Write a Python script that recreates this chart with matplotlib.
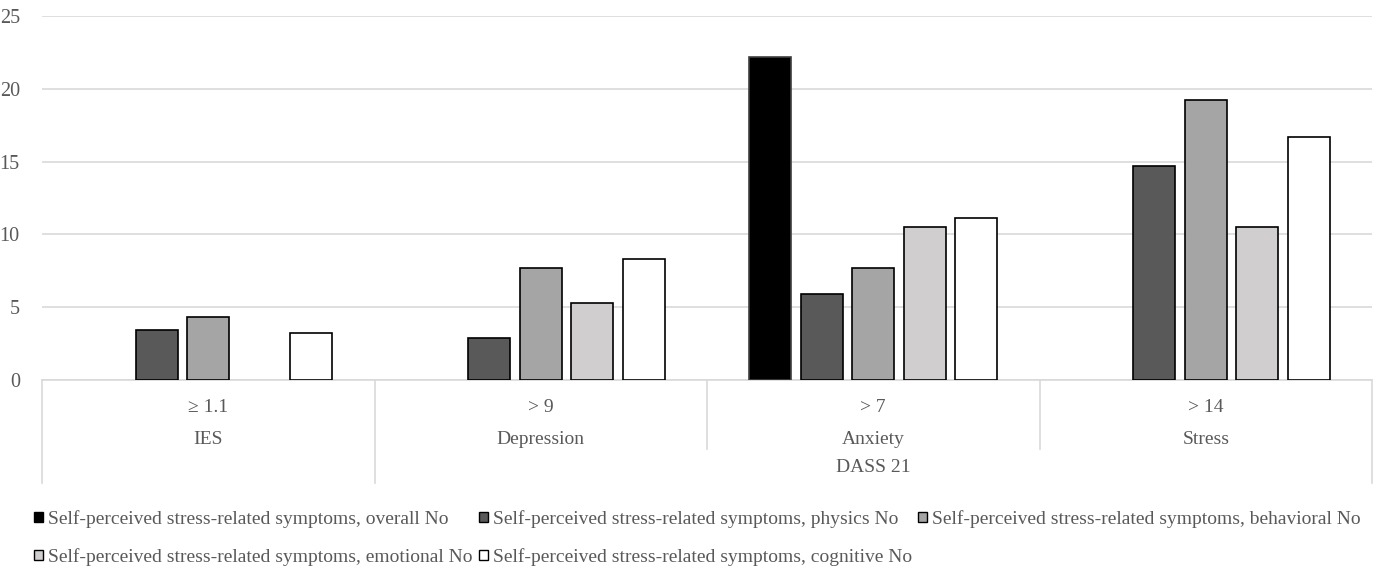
import numpy as np
import matplotlib
matplotlib.use("Agg")
import matplotlib.pyplot as plt
from matplotlib.patches import Patch

plt.rcParams['font.family'] = ['Liberation Serif', 'DejaVu Serif']

# data
thresholds = ['\u2265 1.1', '> 9', '> 7', '> 14']
scales = ['IES', 'Depression', 'Anxiety', 'Stress']
series = ['overall', 'physics', 'behavioral', 'emotional', 'cognitive']
overall = [0, 0, 22.2, 0]
physics = [3.4, 2.9, 5.9, 14.7]
behavioral = [4.3, 7.7, 7.7, 19.2]
emotional = [0, 5.3, 10.5, 10.5]
cognitive = [3.2, 8.3, 11.1, 16.7]
values = [overall, physics, behavioral, emotional, cognitive]
fills = ['#000000', '#595959', '#a5a5a5', '#d0cece', '#ffffff']
edges = ['#404040', '#000000', '#000000', '#000000', '#000000']

grey_txt = '#595959'
grid_c = '#d9d9d9'

fig = plt.figure(figsize=(13.8, 5.8), dpi=100)
W, H = 1380, 580
ax = fig.add_axes([42 / W, 1 - 380 / H, (1372 - 42) / W, (380 - 16) / H])

x = np.arange(len(scales))
step = 0.155
width = 0.126
for i, vals in enumerate(values):
    v = np.array(vals, dtype=float)
    v[v == 0] = np.nan   # excel draws nothing for zero
    ax.bar(x + (i - 2) * step, v, width, color=fills[i], edgecolor=edges[i],
           linewidth=1.2, zorder=3)

ax.set_xlim(-0.5, 3.5)
ax.set_ylim(0, 25)
ax.set_yticks([0, 5, 10, 15, 20, 25])
ax.tick_params(axis='y', length=0, pad=16, labelsize=14.5, labelcolor=grey_txt)
ax.set_xticks([])
ax.grid(axis='y', color=grid_c, linewidth=1.2, zorder=0)
for s in ['left', 'right', 'top']:
    ax.spines[s].set_visible(False)
ax.spines['bottom'].set_color(grid_c)
ax.spines['bottom'].set_linewidth(1.2)

# category table under the axis
tr = ax.get_xaxis_transform()
axh = 364.0
for xv, bottom in zip([-0.5, 0.5, 1.5, 2.5, 3.5], [483, 483, 449, 449, 483]):
    ax.plot([xv, xv], [0, -(bottom - 380) / axh], transform=tr, color=grid_c,
            linewidth=1.2, clip_on=False)
for xi in x:
    ax.text(xi, -(407 - 380) / axh, thresholds[xi], transform=tr, ha='center',
            va='center', fontsize=14, color=grey_txt)
    ax.text(xi, -(439 - 380) / axh, scales[xi], transform=tr, ha='center',
            va='center', fontsize=14, color=grey_txt)
ax.text(2, -(467 - 380) / axh, 'DASS 21', transform=tr, ha='center',
        va='center', fontsize=14, color=grey_txt)

# legend, reordered so it fills row by row
handles = [Patch(facecolor=fills[i], edgecolor='#000000', linewidth=1.0,
                 label='Self-perceived stress-related symptoms, %s No' % series[i])
           for i in range(5)]
order = [0, 3, 1, 4, 2]
fig.legend([handles[k] for k in order], [handles[k].get_label() for k in order],
           loc='upper left', bbox_to_anchor=(34 / W, 1 - 510 / H), ncol=3,
           frameon=False, fontsize=14, labelcolor=grey_txt, handlelength=0.45,
           handleheight=0.45, handletextpad=0.25, columnspacing=0.35,
           labelspacing=1.05, borderpad=0, borderaxespad=0)

fig.savefig('out.png', dpi=100)
